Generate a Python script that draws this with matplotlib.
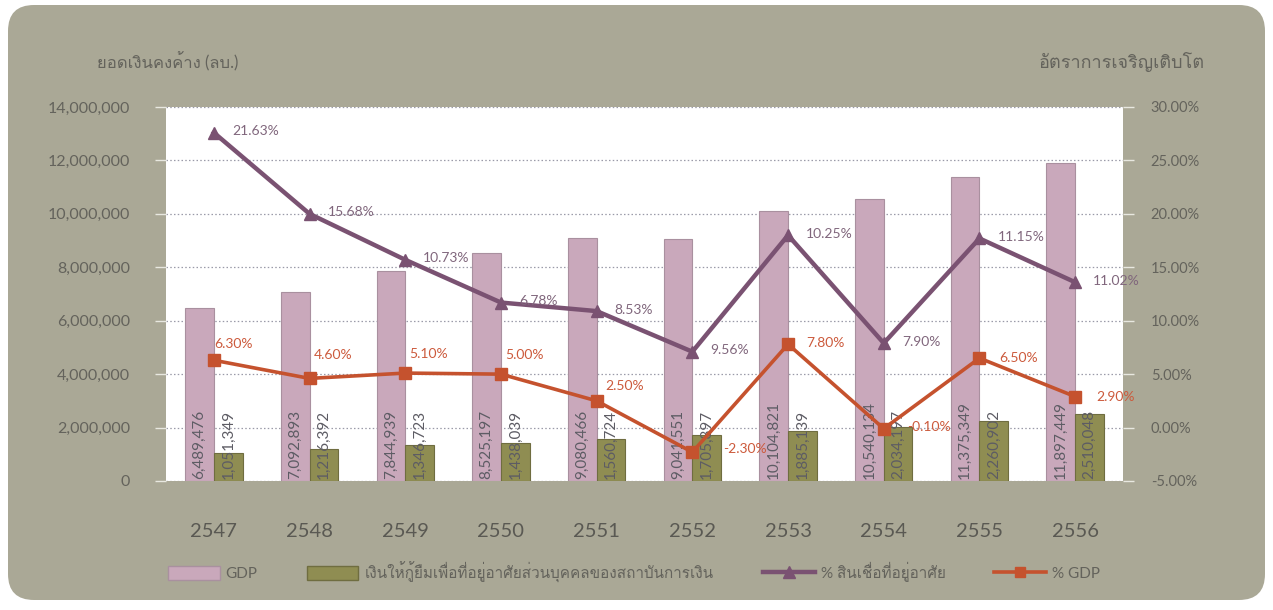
import numpy as np
import matplotlib
matplotlib.use('Agg')
import matplotlib.pyplot as plt
from matplotlib import font_manager
from matplotlib.ft2font import FT2Font
from matplotlib.patches import FancyBboxPatch, Patch
from matplotlib.lines import Line2D
from matplotlib.transforms import IdentityTransform

# data
years = ['2547', '2548', '2549', '2550', '2551', '2552', '2553', '2554', '2555', '2556']
gdp = [6489476, 7092893, 7844939, 8525197, 9080466, 9041551, 10104821, 10540134, 11375349, 11897449]
loans = [1051349, 1216392, 1346723, 1438039, 1560724, 1705897, 1885139, 2034197, 2260902, 2510048]
# purple line: plotted heights (right axis) and the printed labels, which differ in the source
loan_growth = [27.6, 20.0, 15.7, 11.7, 10.9, 7.1, 18.0, 7.9, 17.7, 13.6]
loan_growth_labels = ['21.63%', '15.68%', '10.73%', '6.78%', '8.53%', '9.56%', '10.25%', '7.90%', '11.15%', '11.02%']
gdp_growth = [6.30, 4.60, 5.10, 5.00, 2.50, -2.30, 7.80, -0.10, 6.50, 2.90]

left_title = 'ยอดเงินคงค้าง (ลบ.)'
right_title = 'อัตราการเจริญเติบโต'
legend_labels = ['GDP', 'เงินให้กู้ยืมเพื่อที่อยู่อาศัยส่วนบุคคลของสถาบันการเงิน',
                 '% สินเชื่อที่อยู่อาศัย', '% GDP']


def find_thai_font():
    # look for any installed font that has Thai glyphs
    for f in font_manager.fontManager.ttflist:
        try:
            cmap = FT2Font(f.fname).get_charmap()
        except Exception:
            continue
        if 0x0E01 in cmap and 0x0E40 in cmap:
            return f.name
    return None


thai = find_thai_font()
families = ['Lato']
if thai:
    families.append(thai)
families.append('DejaVu Sans')
plt.rcParams['font.family'] = families

BG = '#aaa896'
TXT = '#64635c'
PINK = '#c9a8bb'
OLIVE = '#8f8d52'
PURPLE = '#7a5272'
ORANGE = '#c5522e'

fig = plt.figure(figsize=(12.73, 6.10), dpi=100, facecolor='white')
bg = FancyBboxPatch((8, 10), 1257, 595, boxstyle='round,pad=0,rounding_size=26',
                    transform=IdentityTransform(), facecolor=BG, edgecolor='none', zorder=-10)
fig.patches.append(bg)

ax = fig.add_axes([166 / 1273, 129 / 610, 957 / 1273, 374 / 610])
ax.set_facecolor('white')
x = np.arange(len(years))
w = 0.30

ax.bar(x - w / 2, gdp, w, color=PINK, edgecolor='#a9909f', linewidth=0.8, zorder=2)
ax.bar(x + w / 2, loans, w, color=OLIVE, edgecolor='#6f6d40', linewidth=0.8, zorder=2)

for xi, v in zip(x, gdp):
    ax.text(xi - w / 2, 60000, f'{v:,}', rotation=90, ha='center', va='bottom',
            fontsize=11, color='#5d5c64', zorder=3)
for xi, v in zip(x, loans):
    ax.text(xi + w / 2, 60000, f'{v:,}', rotation=90, ha='center', va='bottom',
            fontsize=11, color='#5d5c64', zorder=3)

ax.set_xlim(-0.5, len(years) - 0.5)
ax.set_ylim(0, 14000000)
ax.set_yticks(np.arange(0, 14000001, 2000000))
ax.set_yticklabels([f'{int(t):,}' for t in np.arange(0, 14000001, 2000000)])
ax.set_xticks(x)
ax.set_xticklabels(years)
ax.grid(axis='y', linestyle=(0, (1.2, 1.8)), color='#9a9aa8', linewidth=0.9)
ax.set_axisbelow(True)
for s in ax.spines.values():
    s.set_visible(False)
ax.tick_params(axis='y', length=8, width=1, color='#e8e8e0', pad=18, labelsize=11.5, labelcolor=TXT)
ax.tick_params(axis='x', length=0, pad=30, labelsize=14.5, labelcolor='#5a5953')

ax2 = ax.twinx()
ax2.set_ylim(-5, 30)
ax2.set_yticks(np.arange(-5, 31, 5))
ax2.set_yticklabels([f'{t:.2f}%' for t in np.arange(-5, 31, 5)])
for s in ax2.spines.values():
    s.set_visible(False)
ax2.tick_params(axis='y', length=8, width=1, color='#e8e8e0', pad=12, labelsize=10.5, labelcolor=TXT)

ax2.plot(x, loan_growth, color=PURPLE, linewidth=3.2, marker='^', markersize=9, zorder=4)
ax2.plot(x, gdp_growth, color=ORANGE, linewidth=2.6, marker='s', markersize=8.5, zorder=5)

for xi, v, lab in zip(x, loan_growth, loan_growth_labels):
    ax2.annotate(lab, (xi, v), xytext=(13, 1), textcoords='offset points',
                 ha='left', va='center', fontsize=10, color='#80667c', zorder=6)

gdp_label_offsets = [(0, 12), (3, 17), (3, 14), (3, 14), (6, 11),
                     (22, 2), (13, 1), (17, 1), (14, 0), (15, 0)]
for xi, v, off in zip(x, gdp_growth, gdp_label_offsets):
    ax2.annotate(f'{v:.2f}%', (xi, v), xytext=off, textcoords='offset points',
                 ha='left', va='center', fontsize=10, color='#cc5a3c', zorder=6)

fig.text(97 / 1273, 1 - 62 / 610, left_title, ha='left', va='center', fontsize=12, color=TXT)
fig.text(1205 / 1273, 1 - 62 / 610, right_title, ha='right', va='center', fontsize=13, color=TXT)

handles = [Patch(facecolor=PINK, edgecolor='#a9909f'),
           Patch(facecolor=OLIVE, edgecolor='#6f6d40'),
           Line2D([], [], color=PURPLE, linewidth=3.2, marker='^', markersize=8),
           Line2D([], [], color=ORANGE, linewidth=2.6, marker='s', markersize=7)]
fig.legend(handles, legend_labels, loc='center', bbox_to_anchor=(634 / 1273, 1 - 572 / 610),
           ncol=4, frameon=False, fontsize=11, labelcolor=TXT, handlelength=3.4,
           handleheight=1.0, handletextpad=0.4, columnspacing=3.2)

fig.savefig('out.png', dpi=100, facecolor='white')
